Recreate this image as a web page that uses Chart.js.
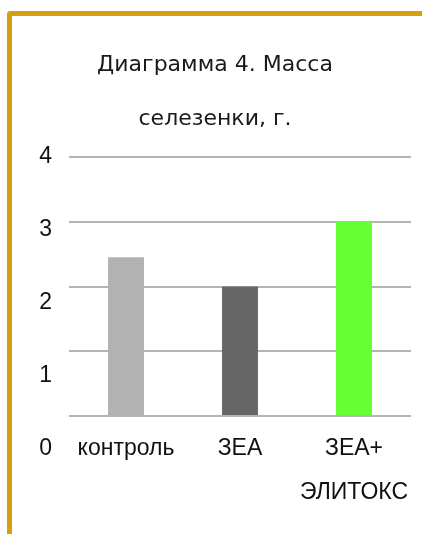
<!DOCTYPE html>
<html>
<head>
<meta charset="utf-8">
<script src="https://cdn.jsdelivr.net/npm/chart.js@4.4.0/dist/chart.umd.min.js"></script>
<style>
  html, body { margin: 0; padding: 0; background: #fff; }
  #wrap { position: relative; width: 422px; height: 534px; overflow: hidden; }
  #frame {
    position: absolute; left: 7px; top: 11px; width: 440px; height: 560px;
    border-left: 5px solid #d4a012; border-top: 5px solid #d4a012;
    border-top-left-radius: 4px; box-sizing: border-box;
  }
  #massChart { position: absolute; left: 0; top: 0; }
</style>
</head>
<body>
<div id="wrap">
  <div id="frame"></div>
  <canvas id="massChart" width="422" height="534"></canvas>
</div>
<script>
  // data
  const groups = ['контроль', 'ЗЕА', ['ЗЕА+', 'ЭЛИТОКС']];
  const spleenMass = [2.45, 2.0, 3.0];
  const barColors = ['#b2b2b2', '#666666', '#66ff33'];
  const yTicks = [0, 1, 2, 3, 4];
  const titleLines = ['Диаграмма 4. Масса', 'селезенки, г.'];

  const tickFont = { family: 'Liberation Sans, Arial, sans-serif', size: 23, lineHeight: 44 / 23 };

  // y labels in the picture sit lower than their grid lines, spread
  // between the top line and the category label row
  const yLabelsPlugin = {
    id: 'yLabels',
    afterDraw(chart) {
      const ctx = chart.ctx;
      const y = chart.scales.y;
      const x = chart.scales.x;
      const bottomRow = x.top + x.options.ticks.padding + tickFont.size * tickFont.lineHeight / 2;
      ctx.save();
      ctx.font = tickFont.size + 'px ' + tickFont.family;
      ctx.fillStyle = '#111';
      ctx.textAlign = 'right';
      ctx.textBaseline = 'middle';
      yTicks.forEach(function (v) {
        let frac = (y.max - v) / (y.max - y.min);
        let py = y.top + frac * (bottomRow - y.top);
        ctx.fillText(String(v), y.right - 17, py);
      });
      ctx.restore();
    }
  };

  let chart = new Chart(document.getElementById('massChart').getContext('2d'), {
    type: 'bar',
    data: {
      labels: groups,
      datasets: [{
        label: 'Масса селезенки',
        data: spleenMass,
        backgroundColor: barColors,
        borderWidth: 0,
        categoryPercentage: 1,
        barPercentage: 0.315
      }]
    },
    options: {
      responsive: false,
      animation: false,
      layout: { padding: { left: 19, right: 11, top: 0, bottom: 8 } },
      plugins: {
        legend: { display: false },
        tooltip: { enabled: false },
        title: {
          display: true,
          text: titleLines,
          color: '#1a1a1a',
          font: { family: 'DejaVu Sans, sans-serif', size: 22, weight: 'normal', lineHeight: 54 / 22 },
          padding: { top: 38, bottom: 11 }
        }
      },
      scales: {
        x: {
          grid: { display: false, drawTicks: false },
          border: { display: false },
          ticks: { color: '#111', font: tickFont, padding: 11, maxRotation: 0, autoSkip: false }
        },
        y: {
          min: 0,
          max: 4,
          afterFit: function (s) { s.width = 50; },
          grid: { color: '#b4b4b4', lineWidth: 2, drawTicks: false },
          border: { display: false },
          ticks: { display: false, stepSize: 1 }
        }
      }
    },
    plugins: [yLabelsPlugin]
  });
</script>
</body>
</html>
